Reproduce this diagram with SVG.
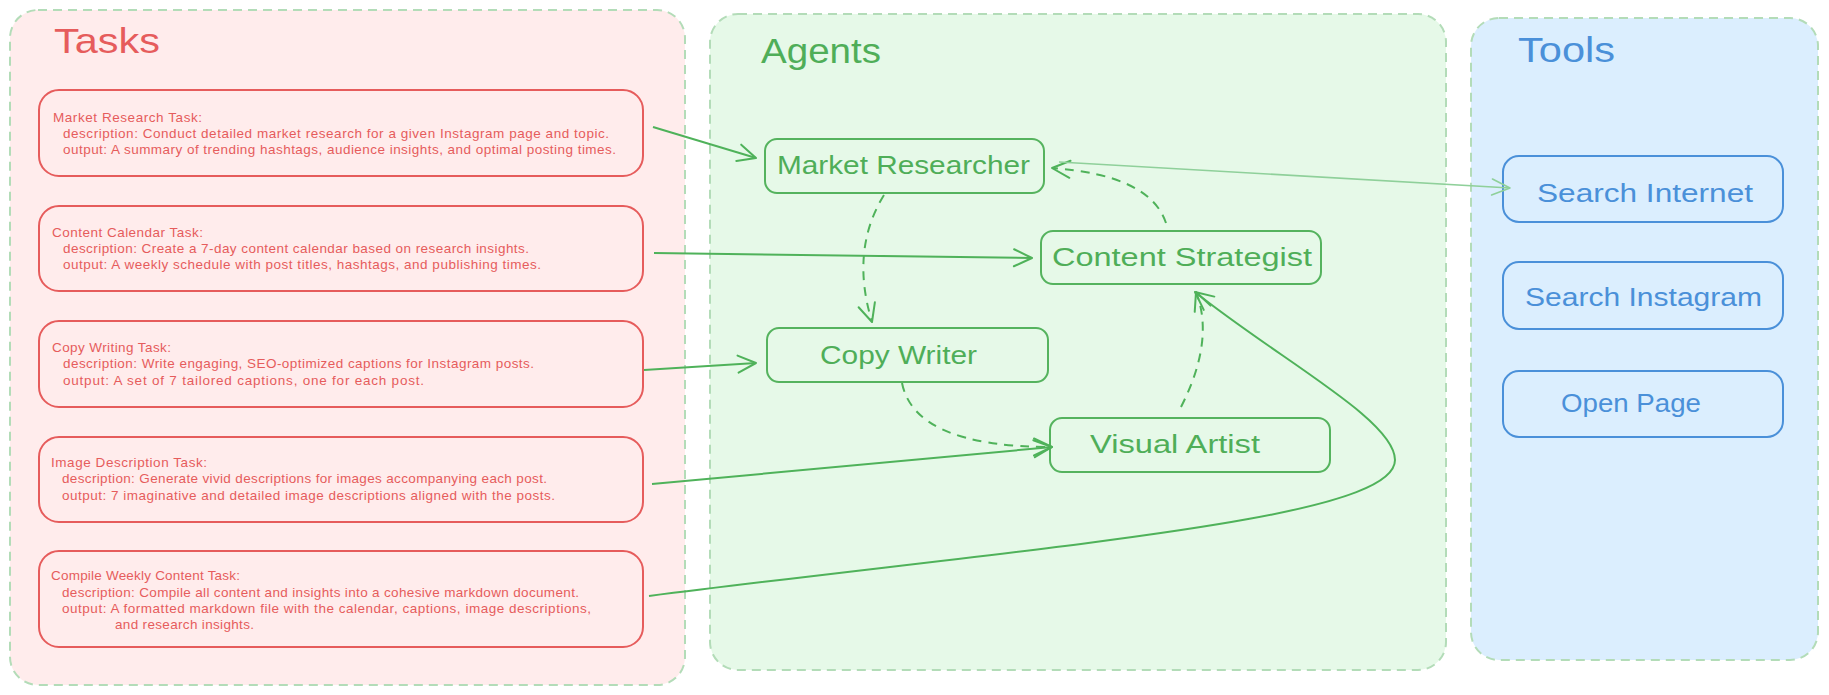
<svg xmlns="http://www.w3.org/2000/svg" width="1829" height="695" viewBox="0 0 1829 695">
<defs>
<marker id="arr" markerUnits="userSpaceOnUse" markerWidth="26" markerHeight="26" refX="20" refY="10" orient="auto" viewBox="0 0 26 20">
<path d="M2,1.5 L20,10 L2,18.5" fill="none" stroke="#4fb25a" stroke-width="2" stroke-linecap="round" stroke-linejoin="round"/>
</marker>
<marker id="arrl" markerUnits="userSpaceOnUse" markerWidth="26" markerHeight="26" refX="20" refY="10" orient="auto" viewBox="0 0 26 20">
<path d="M2,2 L20,10 L2,18" fill="none" stroke="#8fd09a" stroke-width="1.6" stroke-linecap="round" stroke-linejoin="round"/>
</marker>
</defs>
<style>
.cont{stroke:#b3dcb8;stroke-width:2;stroke-dasharray:9 6}
.title{font-family:"Liberation Sans",Arial,sans-serif;font-size:35px}
.task rect{fill:#ffecec;stroke:#e65c5c;stroke-width:2}
.task text{font-family:"Liberation Sans",Arial,sans-serif;font-size:13.5px;fill:#e65c5c}
.agent rect{fill:#e6f9e8;stroke:#55b35e;stroke-width:2}
.agent text{font-family:"Liberation Sans",Arial,sans-serif;font-size:26px;fill:#4fae58}
.tool rect{fill:#dbeefe;stroke:#4a90d9;stroke-width:2}
.tool text{font-family:"Liberation Sans",Arial,sans-serif;font-size:25px;fill:#4a90d9}
.c{fill:none;stroke:#4fb25a;stroke-width:2;marker-end:url(#arr)}
.d{stroke-dasharray:9 7}
.l{fill:none;stroke:#8fd09a;stroke-width:1.6;marker-end:url(#arrl)}
</style>
<g id="containers">
<g id="tasks-group">
<rect class="cont" x="10" y="10" width="675" height="675" rx="28" fill="#ffecec"/>
<text class="title" x="54" y="53" fill="#e65c5c" textLength="106" lengthAdjust="spacingAndGlyphs">Tasks</text>
</g>
<g id="agents-group">
<rect class="cont" x="710" y="14" width="736" height="656" rx="28" fill="#e6f9e8"/>
<text class="title" x="761" y="63" fill="#4fae58" textLength="120" lengthAdjust="spacingAndGlyphs">Agents</text>
</g>
<g id="tools-group">
<rect class="cont" x="1471" y="18" width="347" height="642" rx="28" fill="#dbeefe"/>
<text class="title" x="1518" y="62" fill="#4a90d9" textLength="97" lengthAdjust="spacingAndGlyphs">Tools</text>
</g>
</g>
<g id="task-market-research" class="task">
<rect x="39" y="90" width="604" height="86" rx="20"/>
<text x="53" y="122" textLength="149">Market Research Task:</text>
<text x="63" y="138" textLength="546">description: Conduct detailed market research for a given Instagram page and topic.</text>
<text x="63" y="154" textLength="553">output: A summary of trending hashtags, audience insights, and optimal posting times.</text>
</g>
<g id="task-content-calendar" class="task">
<rect x="39" y="206" width="604" height="85" rx="20"/>
<text x="52" y="237" textLength="151">Content Calendar Task:</text>
<text x="63" y="253" textLength="466">description: Create a 7-day content calendar based on research insights.</text>
<text x="63" y="269" textLength="478">output: A weekly schedule with post titles, hashtags, and publishing times.</text>
</g>
<g id="task-copy-writing" class="task">
<rect x="39" y="321" width="604" height="86" rx="20"/>
<text x="52" y="352" textLength="119">Copy Writing Task:</text>
<text x="63" y="368" textLength="471">description: Write engaging, SEO-optimized captions for Instagram posts.</text>
<text x="63" y="385" textLength="361">output: A set of 7 tailored captions, one for each post.</text>
</g>
<g id="task-image-description" class="task">
<rect x="39" y="437" width="604" height="85" rx="20"/>
<text x="51" y="467" textLength="156">Image Description Task:</text>
<text x="62" y="483" textLength="485">description: Generate vivid descriptions for images accompanying each post.</text>
<text x="62" y="500" textLength="493">output: 7 imaginative and detailed image descriptions aligned with the posts.</text>
</g>
<g id="task-compile-weekly" class="task">
<rect x="39" y="551" width="604" height="96" rx="20"/>
<text x="51" y="580" textLength="189">Compile Weekly Content Task:</text>
<text x="62" y="597" textLength="517">description: Compile all content and insights into a cohesive markdown document.</text>
<text x="62" y="613" textLength="529">output: A formatted markdown file with the calendar, captions, image descriptions,</text>
<text x="115" y="629" textLength="139">and research insights.</text>
</g>
<g id="agent-market-researcher" class="agent">
<rect x="765" y="139" width="279" height="54" rx="12"/>
<text x="777" y="174" textLength="253" lengthAdjust="spacingAndGlyphs">Market Researcher</text>
</g>
<g id="agent-content-strategist" class="agent">
<rect x="1041" y="231" width="280" height="53" rx="12"/>
<text x="1052" y="266" textLength="260" lengthAdjust="spacingAndGlyphs">Content Strategist</text>
</g>
<g id="agent-copy-writer" class="agent">
<rect x="767" y="328" width="281" height="54" rx="12"/>
<text x="820" y="364" textLength="157" lengthAdjust="spacingAndGlyphs">Copy Writer</text>
</g>
<g id="agent-visual-artist" class="agent">
<rect x="1050" y="418" width="280" height="54" rx="12"/>
<text x="1090" y="453" textLength="170" lengthAdjust="spacingAndGlyphs">Visual Artist</text>
</g>
<g id="tool-search-internet" class="tool">
<rect x="1503" y="156" width="280" height="66" rx="16"/>
<text x="1537" y="202" textLength="216" lengthAdjust="spacingAndGlyphs">Search Internet</text>
</g>
<g id="tool-search-instagram" class="tool">
<rect x="1503" y="262" width="280" height="67" rx="16"/>
<text x="1525" y="306" textLength="237" lengthAdjust="spacingAndGlyphs">Search Instagram</text>
</g>
<g id="tool-open-page" class="tool">
<rect x="1503" y="371" width="280" height="66" rx="16"/>
<text x="1561" y="412" textLength="140" lengthAdjust="spacingAndGlyphs">Open Page</text>
</g>
<g id="connectors">
<path class="c" d="M653,127 L756,158"/>
<path class="c" d="M654,253 L1032,258"/>
<path class="c" d="M644,370 L756,363"/>
<path class="c" d="M652,484 L1052,447"/>
<path class="c" d="M649,596 C1050,545 1395,520 1395,460 C1395,420 1280,360 1195,292"/>
<path class="c d" d="M884,195 Q850,250 872,322"/>
<path class="c d" d="M1166,223 Q1150,175 1052,168"/>
<path class="c d" d="M902,383 Q915,447 1052,447"/>
<path class="c d" d="M1181,407 Q1215,340 1196,292"/>
<path class="l" d="M1059,162 L1510,188"/>
</g>
</svg>
